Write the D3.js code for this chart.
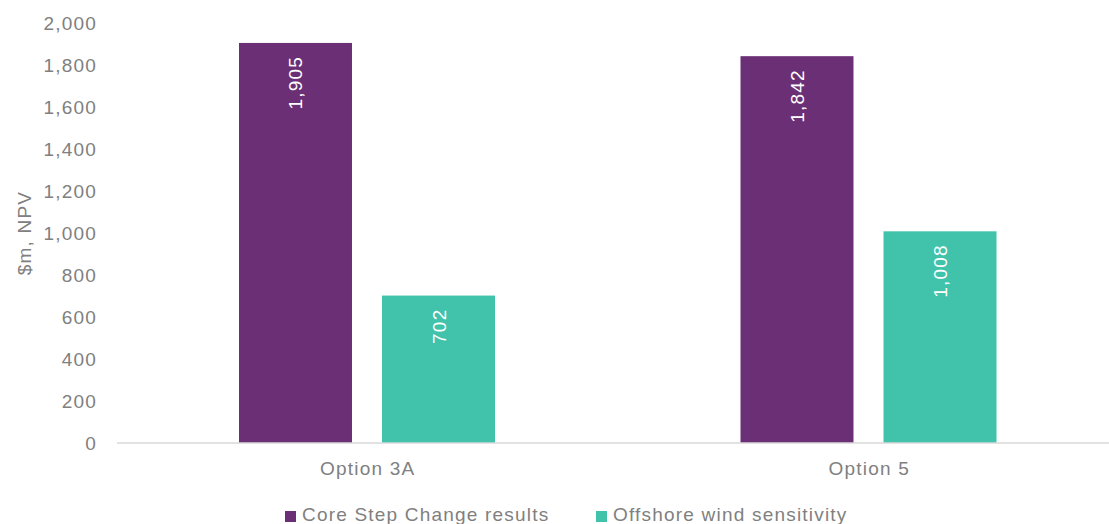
<!DOCTYPE html>
<html>
<head>
<meta charset="utf-8">
<script src="https://cdn.jsdelivr.net/npm/d3@7"></script>
<style>
  html, body { margin: 0; padding: 0; background: #fff; }
  svg { display: block; font-family: "Liberation Sans", Arial, sans-serif; }
  text { font-size: 19px; letter-spacing: 1.2px; }
</style>
</head>
<body>
<svg id="chart" width="1109" height="524"></svg>
<script>
const categories = ["Option 3A", "Option 5"];
const seriesNames = ["Core Step Change results", "Offshore wind sensitivity"];
const coreValues = [1905, 1842];
const offshoreValues = [702, 1008];
const yTicks = [0, 200, 400, 600, 800, 1000, 1200, 1400, 1600, 1800, 2000];
const colors = ["#6b2f76", "#40c2ab"];

const svg = d3.select("#chart");
const W = 1109, H = 524;
const plotLeft = 117, plotRight = 1120, plotTop = 23, plotBottom = 443;

const x = d3.scaleBand().domain(categories).range([plotLeft, plotRight]);
// bars inside each category band
const x1 = d3.scaleBand().domain(seriesNames).range([122, 378]).paddingInner(0.21).paddingOuter(0);
const y = d3.scaleLinear().domain([0, 2000]).range([plotBottom, plotTop]);

const fmt = d3.format(",");
const grey = "#808080";

// y axis labels
const yAxis = svg.append("g").attr("transform", `translate(${plotLeft - 20},0)`)
  .call(d3.axisLeft(y).tickValues(yTicks).tickFormat(fmt).tickSize(0).tickPadding(0));
yAxis.select(".domain").remove();
yAxis.selectAll("text").attr("fill", grey).attr("font-size", null).attr("font-family", null);
yAxis.attr("font-size", null).attr("font-family", null);

// y title
svg.append("text")
  .attr("transform", `translate(31,${(y(0) + y(2000)) / 2}) rotate(-90)`)
  .attr("text-anchor", "middle")
  .attr("fill", grey)
  .text("$m, NPV");

const rows = categories.map((c, i) => ({ cat: c, vals: [coreValues[i], offshoreValues[i]] }));

const groups = svg.append("g").selectAll("g").data(rows).join("g")
  .attr("transform", d => `translate(${x(d.cat)},0)`);

const cells = d => d.vals.map((v, k) => ({ name: seriesNames[k], v, k }));

groups.selectAll("rect").data(cells).join("rect")
  .attr("x", d => x1(d.name))
  .attr("width", x1.bandwidth())
  .attr("y", d => y(d.v))
  .attr("height", d => y(0) - y(d.v))
  .attr("fill", d => colors[d.k]);

groups.selectAll("text.val").data(cells).join("text")
  .attr("class", "val")
  .attr("transform", d => `translate(${x1(d.name) + x1.bandwidth() / 2 + 7},${y(d.v) + 13}) rotate(-90)`)
  .attr("text-anchor", "end")
  .attr("fill", "#ffffff")
  .text(d => fmt(d.v));

// baseline
svg.append("line")
  .attr("x1", plotLeft).attr("x2", W)
  .attr("y1", y(0)).attr("y2", y(0))
  .attr("stroke", "#d9d9d9").attr("stroke-width", 1.5);

// x axis labels
const xAxis = svg.append("g").attr("transform", `translate(0,${y(0)})`)
  .call(d3.axisBottom(x).tickSize(0).tickPadding(19));
xAxis.select(".domain").remove();
xAxis.attr("font-size", null).attr("font-family", null);
xAxis.selectAll("text").attr("fill", grey);

// legend
const legendX = [285, 596];
const legend = svg.append("g").selectAll("g").data(seriesNames).join("g")
  .attr("transform", (d, i) => `translate(${legendX[i]},521)`);
legend.append("rect").attr("x", 0).attr("y", -10).attr("width", 11).attr("height", 11)
  .attr("fill", (d, i) => colors[i]);
legend.append("text").attr("x", 17).attr("y", 0)
  .attr("fill", grey).text(d => d);
</script>
</body>
</html>
